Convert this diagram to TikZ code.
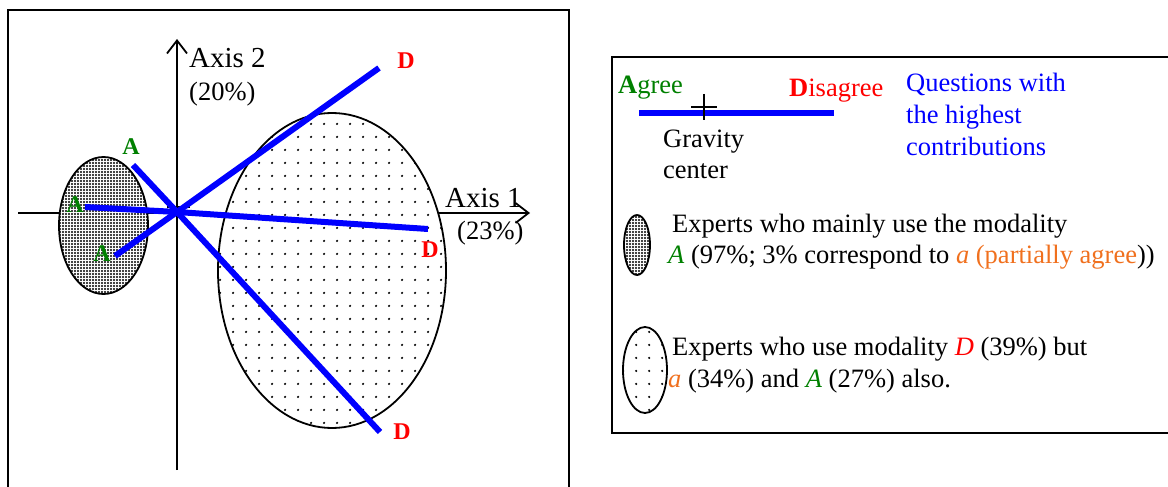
\documentclass[tikz,border=0pt]{standalone}
\usepackage{fontspec}
\setmainfont{Liberation Serif}
\usetikzlibrary{arrows.meta,patterns.meta,shapes.geometric}
\definecolor{agreeg}{HTML}{008000}
\definecolor{disr}{HTML}{FF0000}
\definecolor{qblue}{HTML}{0000FF}
\definecolor{partor}{HTML}{F0701E}
\tikzset{
  frame/.style={draw=black,line width=2pt},
  axisline/.style={line width=1.8pt,-{Straight Barb[length=13pt,width=20pt,line width=1.8pt]}},
  axlabel/.style={inner sep=0pt,font=\fontsize{29}{34}\selectfont},
  pctlabel/.style={inner sep=0pt,font=\fontsize{26.5}{32}\selectfont},
  grpdense/.style={ellipse,draw=black,line width=1.8pt,inner sep=0pt,preaction={fill=white},
    pattern={Dots[distance=3pt,radius=1.1pt]}},
  grpsparse/.style={ellipse,draw=black,line width=1.8pt,inner sep=0pt,preaction={fill=white},
    pattern={Dots[distance=13pt,radius=1.3pt]}},
  qline/.style={draw=qblue,line width=6pt},
  modA/.style={inner sep=0pt,text=agreeg,font=\fontsize{24}{28}\selectfont\bfseries},
  modD/.style={inner sep=0pt,text=disr,font=\fontsize{24}{28}\selectfont\bfseries},
  legtext/.style={inner sep=0pt,anchor=base west,font=\fontsize{26.5}{31.5}\selectfont},
}

\begin{document}
\begin{tikzpicture}[x=1pt,y=-1pt]
  \useasboundingbox (0,0) rectangle (1168,487);
  \clip (0,0) rectangle (1168,487);
  % frames
  \draw[frame] (8,10) rectangle (569,520);
  \draw[frame] (612,57) rectangle (1190,433);
  % axes
  \coordinate (o) at (177,212);
  \coordinate (xl) at (18,213); \coordinate (xr) at (530,213);
  \coordinate (yb) at (177,470); \coordinate (yt) at (177,39);
  \draw[axisline] (xl) -- (xr);
  \draw[axisline] (yb) -- (yt);
  \node[axlabel,anchor=base west] (ax2) at (189,68) {Axis 2};
  \node[pctlabel,anchor=base west] (pc2) at (189,100) {(20\%)};
  \node[axlabel,anchor=base west] (ax1) at (445,207) {Axis 1};
  \node[pctlabel,anchor=base west] (pc1) at (457,239) {(23\%)};
  \draw[line width=2.5pt] (167,207) -- (190,207);
  % groups of experts
  \node[grpsparse,minimum width=228pt,minimum height=315pt] (grpD) at (332,270.5) {};
  \node[grpdense,minimum width=89pt,minimum height=137pt] (grpA) at (103.5,225.5) {};
  % questions with the highest contributions
  \coordinate (aUp) at (133,165); \coordinate (aMid) at (85,207); \coordinate (aLow) at (115,256);
  \coordinate (dUp) at (379,68); \coordinate (dMid) at (428,229); \coordinate (dLow) at (380,432);
  \foreach \e in {aUp,aMid,aLow,dUp,dMid,dLow} \draw[qline] (o) -- (\e);
  \node[modA] (laUp) at (131,147) {A};
  \node[modA] (laMid) at (75,205) {A};
  \node[modA] (laLow) at (102,254) {A};
  \node[modD] (ldUp) at (406,61) {D};
  \node[modD] (ldMid) at (430,250) {D};
  \node[modD] (ldLow) at (402,432) {D};
  % legend
  \coordinate (lgl) at (639,113); \coordinate (lgr) at (834,113);
  \draw[qline] (lgl) -- (lgr);
  \draw[line width=2.5pt] (691,107) -- (717,107) (704,94) -- (704,120);
  \node[legtext,text=agreeg] (agree) at (618,93) {{\bfseries A}gree};
  \node[legtext,text=disr] (disagree) at (789,96) {{\bfseries D}isagree};
  \node[legtext] (grav1) at (663,147) {Gravity};
  \node[legtext] (grav2) at (663,178) {center};
  \node[legtext,text=qblue] (ques1) at (906,92) {Questions with};
  \node[legtext,text=qblue] (ques2) at (906,123) {the highest};
  \node[legtext,text=qblue] (ques3) at (906,155) {contributions};
  \node[grpdense,minimum width=26pt,minimum height=60pt] (keyA) at (637,245) {};
  \node[grpsparse,minimum width=44pt,minimum height=86pt] (keyD) at (645,370) {};
  \node[legtext] (txtA1) at (672,232) {Experts who mainly use the modality};
  \node[legtext] (txtA2) at (668,263) {{\color{agreeg}\textit{A}} (97\%; 3\% correspond to {\color{partor}\textit{a} (partially agree}))};
  \node[legtext] (txtD1) at (672,355) {Experts who use modality {\color{disr}\textit{D}} (39\%) but};
  \node[legtext] (txtD2) at (668,387) {{\color{partor}\textit{a}} (34\%) and {\color{agreeg}\textit{A}} (27\%) also.};
\end{tikzpicture}
\end{document}
